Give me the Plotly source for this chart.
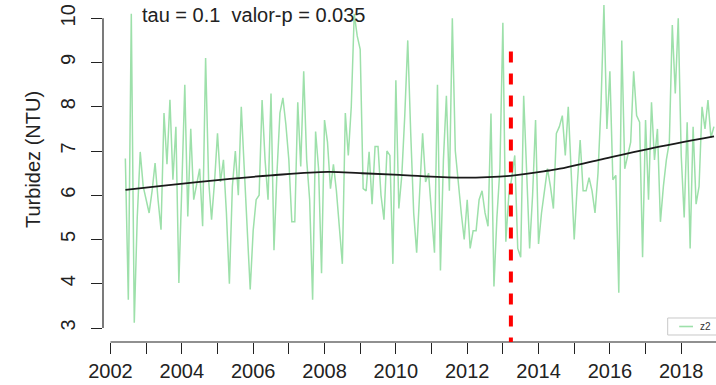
import plotly.graph_objects as go

# ---- data -------------------------------------------------------------
START_YEAR = 2002 + 5 / 12          # June 2002, monthly series
turbidity = [
    6.83, 3.64, 10.1, 3.12, 5.5, 6.98, 6.2, 5.9, 5.6, 6.1,
    6.73, 5.9, 5.22, 7.86, 6.7, 8.16, 6.35, 7.55, 4.02, 6.2,
    8.5, 5.52, 7.5, 5.9, 6.3, 6.6, 5.3, 9.1, 6.35, 5.45,
    6.3, 7.4, 6.3, 6.8, 5.6, 4.0, 6.2, 7.0, 6.0, 8.0,
    6.6, 5.2, 3.87, 5.2, 5.9, 6.0, 8.15, 6.8, 5.9, 8.3,
    4.76, 6.5, 7.86, 8.2, 7.6, 6.8, 5.4, 5.4, 8.1, 6.65,
    8.8, 6.8, 5.9, 3.64, 7.44, 6.6, 4.24, 7.7, 7.2, 6.15,
    6.7, 6.1, 5.2, 4.45, 7.86, 6.9, 8.0, 10.1, 9.6, 9.3,
    6.15, 6.1, 6.98, 5.8, 7.1, 7.1, 6.0, 5.45, 7.0, 6.9,
    4.45, 8.6, 5.7, 6.45, 7.8, 9.5, 7.4, 5.6, 4.7, 6.2,
    7.4, 6.3, 6.5, 5.6, 4.7, 8.5, 4.3, 6.8, 8.25, 6.1,
    10.0, 7.0, 6.2, 5.6, 5.0, 5.9, 4.8, 5.2, 5.2, 5.9,
    6.1, 5.6, 5.3, 7.85, 3.94, 5.5, 6.6, 9.9, 4.95, 6.0,
    6.4, 6.9, 4.8, 4.6, 8.25, 6.6, 4.8, 6.0, 7.7, 4.9,
    5.6, 6.1, 6.6, 6.2, 5.7, 7.4, 7.55, 7.8, 6.9, 8.0,
    6.35, 5.0, 6.2, 7.25, 6.1, 6.1, 6.4, 6.1, 5.6, 6.5,
    8.0, 10.3, 7.5, 8.8, 6.35, 6.45, 3.8, 9.5, 6.6, 6.9,
    7.2, 8.8, 7.8, 7.65, 4.6, 7.7, 5.9, 8.1, 6.8, 7.5,
    5.4, 6.2, 6.8, 7.2, 9.85, 8.3, 10.0, 6.9, 5.5, 7.65,
    4.8, 7.55, 5.8, 6.2, 8.0, 7.5, 8.15, 7.3, 7.55,
]
time = [START_YEAR + i / 12 for i in range(len(turbidity))]

trend_time = [2002.42, 2003.5, 2005.07, 2006.5, 2008.1, 2009.0, 2010.1,
              2011.8, 2013.2, 2014.3, 2014.6, 2015.7, 2017.1, 2018.92]
trend_value = [6.12, 6.22, 6.35, 6.45, 6.53, 6.50, 6.46,
               6.40, 6.44, 6.56, 6.60, 6.80, 7.05, 7.33]

break_year = 2013.225
break_top = 9.25

x_tick_years = list(range(2002, 2019))
x_tick_text = [str(y) if y % 2 == 0 else "" for y in x_tick_years]
y_ticks = [3, 4, 5, 6, 7, 8, 9, 10]

stats_text = "tau = 0.1  valor-p = 0.035"
y_title = "Turbidez (NTU)"
series_name = "z2"

# ---- figure -------------------------------------------------------------
X_RANGE = [2001.79, 2018.975]
Y_RANGE = [2.684, 10.413]
FONT = "Liberation Sans, Arial, sans-serif"
GREEN = "#9de0aa"

fig = go.Figure()
fig.add_trace(go.Scatter(x=time, y=turbidity, mode="lines",
                         line=dict(color=GREEN, width=1.5), name=series_name,
                         showlegend=False))
fig.add_trace(go.Scatter(x=trend_time, y=trend_value, mode="lines",
                         line=dict(color="#1a1a1a", width=1.8, shape="spline"),
                         showlegend=False))

shapes = [
    # R-style axis lines
    dict(type="line", xref="paper", yref="y", x0=0, x1=0, y0=3, y1=10,
         line=dict(color="#222", width=1.2)),
    dict(type="line", xref="x", yref="paper", x0=2002, x1=X_RANGE[1], y0=0, y1=0,
         line=dict(color="#222", width=1.2)),
    # break line
    dict(type="line", xref="x", yref="y", x0=break_year, x1=break_year,
         y0=break_top, y1=Y_RANGE[0],
         line=dict(color="#ff0000", width=4, dash="11px,11px")),
    # legend box
    dict(type="rect", xref="paper", yref="paper", x0=0.9212, x1=1.05,
         y0=0.0205, y1=0.0702, line=dict(color="#c8c8c8", width=1),
         fillcolor="white"),
    dict(type="line", xref="paper", yref="paper", x0=0.940, x1=0.9625,
         y0=0.0453, y1=0.0453, line=dict(color=GREEN, width=1.6)),
]

annotations = [
    dict(text=stats_text, xref="x", yref="paper", x=2002.82, y=1 - 15 / 342,
         xanchor="left", yanchor="middle", showarrow=False,
         font=dict(family=FONT, size=20, color="#222")),
    dict(text=y_title, xref="paper", yref="paper", x=(33 - 103) / 613,
         y=1 - 160 / 342, xanchor="center", yanchor="middle", textangle=-90,
         showarrow=False, font=dict(family=FONT, size=20, color="#222")),
    dict(text=series_name, xref="paper", yref="paper", x=0.9706, y=0.0453,
         xanchor="left", yanchor="middle", showarrow=False,
         font=dict(family=FONT, size=10, color="#333")),
]

fig.update_layout(
    width=716, height=385,
    margin=dict(l=103, r=0, t=0, b=43, pad=0),
    paper_bgcolor="white", plot_bgcolor="white",
    showlegend=False,
    shapes=shapes, annotations=annotations,
    font=dict(family=FONT, size=20, color="#222"),
)
fig.update_xaxes(range=X_RANGE, tickmode="array", tickvals=x_tick_years,
                 ticktext=x_tick_text, ticks="outside", ticklen=11,
                 tickwidth=1.2, tickcolor="#222", showgrid=False, zeroline=False,
                 showline=False, tickfont=dict(family=FONT, size=20, color="#222"))
fig.update_yaxes(range=Y_RANGE, tickmode="array", tickvals=y_ticks,
                 ticks="outside", ticklen=11, tickwidth=1.2, tickcolor="#222",
                 tickangle=-90, ticklabelstandoff=8, showgrid=False,
                 zeroline=False, showline=False,
                 tickfont=dict(family=FONT, size=20, color="#222"))

fig.write_html("out.html")
